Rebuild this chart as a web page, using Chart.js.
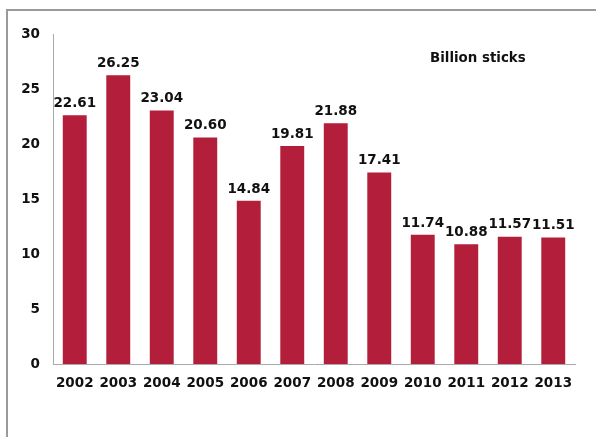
<!DOCTYPE html>
<html><head><meta charset="utf-8">
<script src="https://cdn.jsdelivr.net/npm/chart.js@4.4.0/dist/chart.umd.min.js"></script>
<style>html,body{margin:0;padding:0;background:#fff;}#wrap{width:596px;height:437px;position:relative;}</style>
</head><body><div id="wrap"><canvas id="c" width="596" height="437"></canvas></div>
<script>
const years = ['2002','2003','2004','2005','2006','2007','2008','2009','2010','2011','2012','2013'];
const sticks = [22.61,26.25,23.04,20.60,14.84,19.81,21.88,17.41,11.74,10.88,11.57,11.51];
const yTicks = [0,5,10,15,20,25,30];
const unitLabel = 'Billion sticks';
const FONT = '"DejaVu Sans", Verdana, sans-serif';

const decor = {
  id:'decor',
  beforeDraw(chart){
    const ctx = chart.ctx;
    ctx.save();
    ctx.strokeStyle = '#9a9a9a';
    ctx.lineWidth = 2;
    ctx.beginPath();
    ctx.moveTo(7, 437); ctx.lineTo(7, 10); ctx.lineTo(596, 10);
    ctx.stroke();
    ctx.restore();
  },
  afterDatasetsDraw(chart){
    const ctx = chart.ctx;
    ctx.save();
    ctx.fillStyle = '#111';
    ctx.font = 'bold 13.5px ' + FONT;
    ctx.textAlign = 'center';
    ctx.textBaseline = 'bottom';
    chart.getDatasetMeta(0).data.forEach((bar,i)=>{
      ctx.fillText(sticks[i].toFixed(2), bar.x, bar.y - 5);
    });
    ctx.font = 'bold 13.4px ' + FONT;
    ctx.textAlign = 'left';
    ctx.textBaseline = 'middle';
    ctx.fillText(unitLabel, 430, 59);
    ctx.restore();
  }
};

new Chart(document.getElementById('c'), {
  type:'bar',
  data:{labels:years, datasets:[{data:sticks, backgroundColor:'#B31F3A', borderWidth:0, barPercentage:0.55, categoryPercentage:1}]},
  options:{
    responsive:false, animation:false, devicePixelRatio:1,
    layout:{padding:{left:0, top:34, right:21, bottom:0}},
    plugins:{legend:{display:false}, tooltip:{enabled:false}},
    scales:{
      x:{
        grid:{display:false, drawTicks:false},
        border:{display:true, color:'#aaaaaa', width:1},
        ticks:{color:'#111', font:{family:FONT, size:13.5, weight:'bold'}, padding:11, maxRotation:0, autoSkip:false},
        afterFit(s){ s.height = 73; }
      },
      y:{
        min:0, max:30,
        grid:{display:false, drawTicks:false},
        border:{display:true, color:'#aaaaaa', width:1},
        afterBuildTicks(s){ s.ticks = yTicks.map(v=>({value:v})); },
        ticks:{color:'#111', font:{family:FONT, size:13.5, weight:'bold'}, padding:13},
        afterFit(s){ s.width = 53; }
      }
    }
  },
  plugins:[decor]
});
</script></body></html>
